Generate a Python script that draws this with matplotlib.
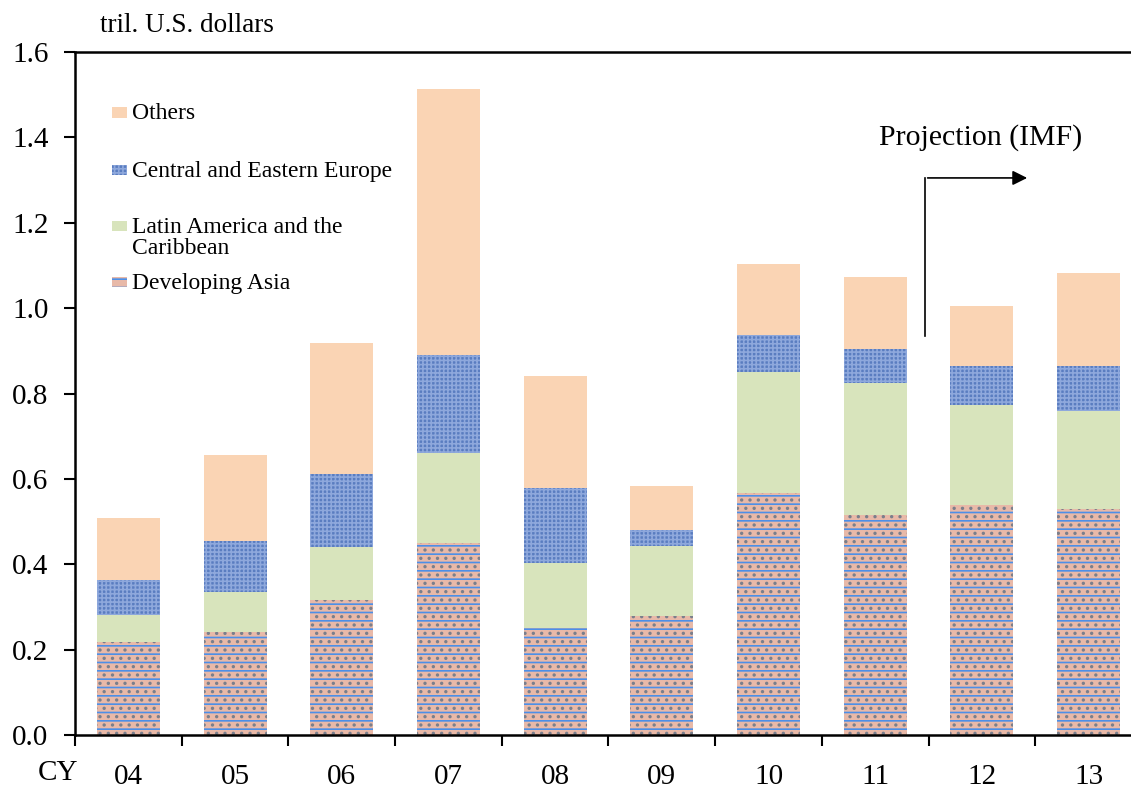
import matplotlib.pyplot as plt
from matplotlib.patches import Rectangle
import numpy as np

plt.rcParams['font.family'] = ['Liberation Serif', 'DejaVu Serif']
plt.rcParams['hatch.linewidth'] = 1.2

years = ["04", "05", "06", "07", "08", "09", "10", "11", "12", "13"]
asia = [0.218, 0.241, 0.316, 0.450, 0.251, 0.279, 0.567, 0.515, 0.539, 0.529]
latam = [0.063, 0.094, 0.124, 0.211, 0.152, 0.164, 0.283, 0.310, 0.234, 0.230]
cee = [0.082, 0.119, 0.171, 0.229, 0.176, 0.037, 0.087, 0.079, 0.091, 0.105]
others = [0.145, 0.202, 0.307, 0.623, 0.262, 0.103, 0.166, 0.169, 0.141, 0.218]

c_others = "#FAD4B4"
c_cee = "#5A7DC0"
c_latam = "#D8E4BC"
c_asia = "#E8B9A8"

fig = plt.figure(figsize=(11.31, 7.89), dpi=100)
ax = fig.add_axes([0.0663, 0.0684, 0.9434, 0.8657])

x = np.arange(len(years))
w = 0.59
b1 = np.array(asia)
b2 = b1 + np.array(latam)
b3 = b2 + np.array(cee)

# developing asia: peach base, blue lines, grey dots
ax.bar(x, asia, w, color=c_asia, lw=0)
ax.bar(x, asia, w, color="none", edgecolor="#4C8FE8", hatch="--", lw=0)
ax.bar(x, asia, w, color="none", edgecolor="#7A7F8C", hatch="..", lw=0)
ax.bar(x, latam, w, bottom=b1, color=c_latam, lw=0)
ax.bar(x, cee, w, bottom=b2, color=c_cee, lw=0)
ax.bar(x, cee, w, bottom=b2, color="none", edgecolor="#8EA8DC", hatch="++++", lw=0)
ax.bar(x, others, w, bottom=b3, color=c_others, lw=0)

ax.set_xlim(-0.5, len(years) - 0.5)
ax.set_ylim(0, 1.6)
ax.set_yticks(np.arange(0, 1.61, 0.2))
ax.set_yticklabels(["%.1f" % v for v in np.arange(0, 1.61, 0.2)])
ax.set_xticks(x)
ax.set_xticklabels(years)
ax.set_xticks(np.arange(-0.5, len(years), 1), minor=True)
ax.tick_params(axis="x", which="major", length=0, pad=21, labelsize=21)
ax.tick_params(axis="x", which="minor", length=8, width=1.5, direction="out")
ax.tick_params(axis="y", length=8, width=1.5, direction="out", pad=11, labelsize=21)
for s in ["left", "bottom", "top"]:
    ax.spines[s].set_linewidth(1.8)
ax.spines["right"].set_visible(False)

ax.text(0.023, 1.029, "tril. U.S. dollars", transform=ax.transAxes, fontsize=19.5,
        va="baseline")
ax.text(0.003, -0.056, "CY", transform=ax.transAxes, fontsize=21, ha="right", va="center")

# legend drawn by hand (Excel-style spacing)
leg = [("Others", c_others, None, None, 0.911),
       ("Central and Eastern Europe", c_cee, "++++", "#8EA8DC", 0.827),
       ("Latin America and the\nCaribbean", c_latam, None, None, 0.745),
       ("Developing Asia", c_asia, "--", "#4C8FE8", 0.663)]
for lab, col, h, hc, yy in leg:
    ax.add_patch(Rectangle((0.035, yy - 0.007), 0.014, 0.015, transform=ax.transAxes,
                           facecolor=col, lw=0))
    if h:
        ax.add_patch(Rectangle((0.035, yy - 0.007), 0.014, 0.015, transform=ax.transAxes,
                               facecolor="none", edgecolor=hc, hatch=h, lw=0))
    ax.text(0.053, yy + 0.014, lab, transform=ax.transAxes, fontsize=17, va="top",
            linespacing=1.0)

# projection arrow
ax.plot([7.47, 7.47], [0.935, 1.305], color="black", lw=1.2)
ax.annotate("", xy=(8.45, 1.305), xytext=(7.465, 1.305),
            arrowprops=dict(arrowstyle="-|>", color="black", lw=1.2, mutation_scale=22))
ax.text(7.99, 1.40, "Projection (IMF)", fontsize=21.5, ha="center", va="center")

fig.savefig("out.png", dpi=100)
